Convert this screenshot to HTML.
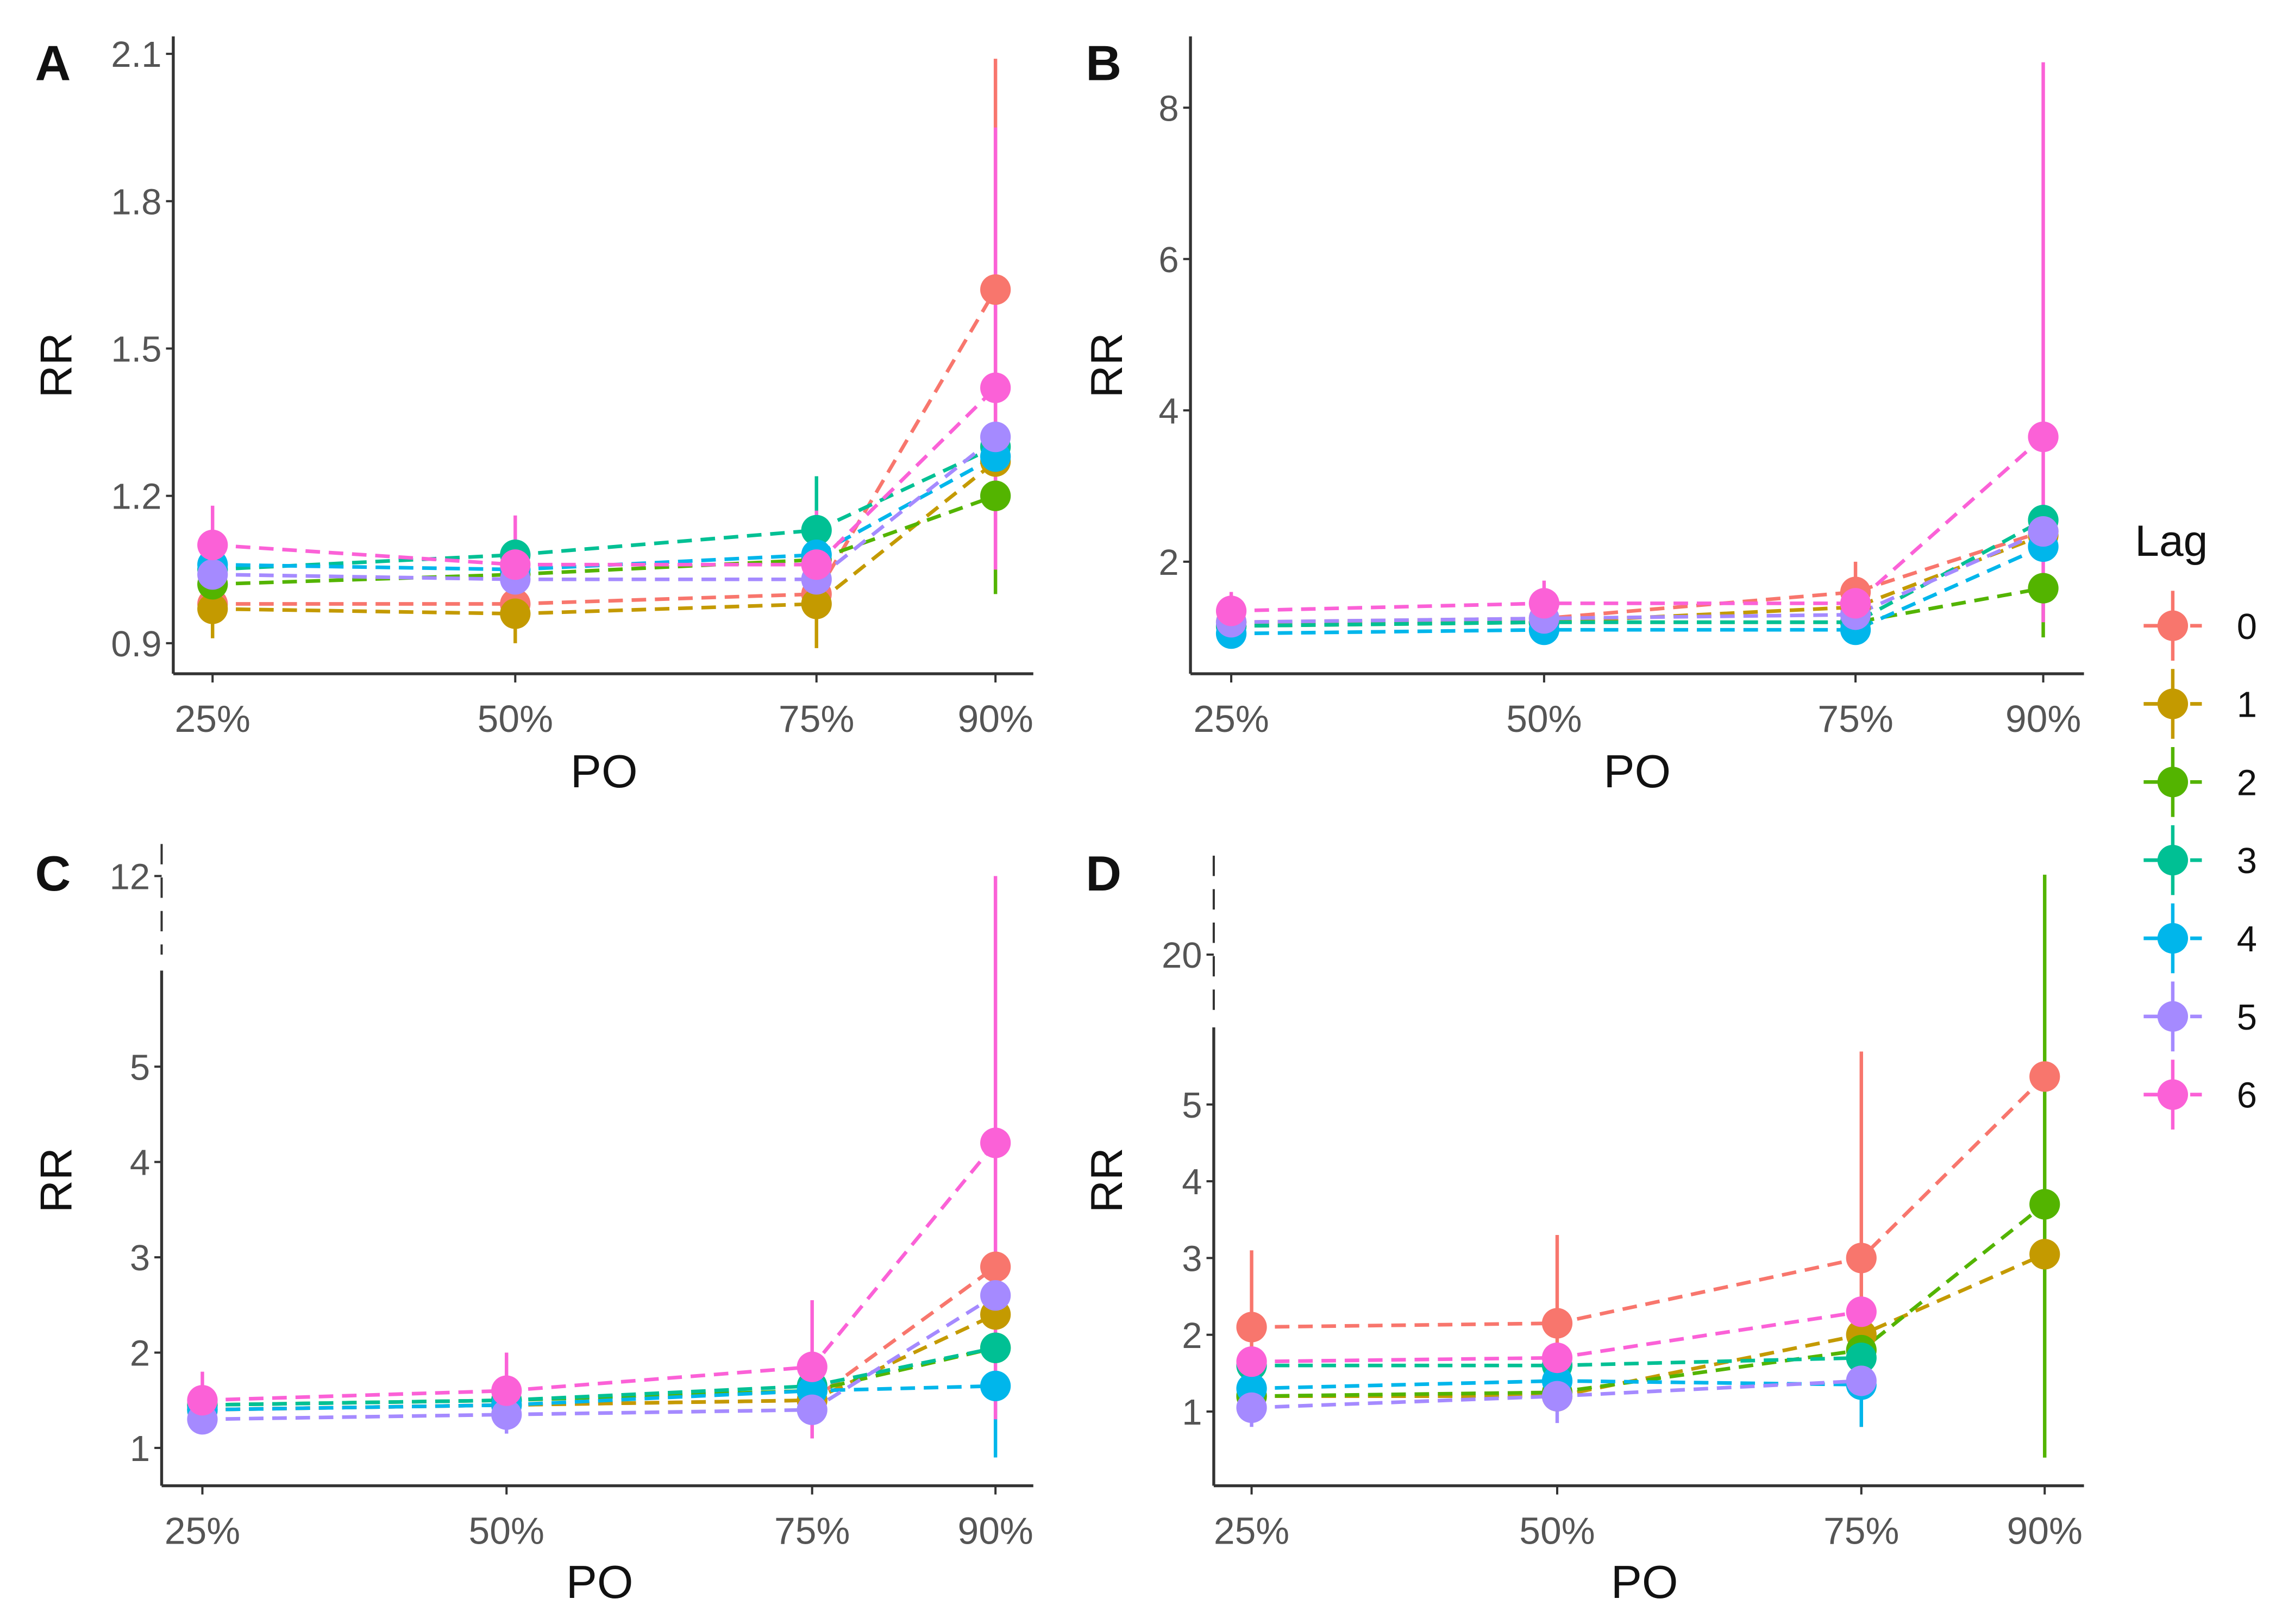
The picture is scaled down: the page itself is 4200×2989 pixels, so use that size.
<!DOCTYPE html>
<html><head><meta charset="utf-8"><style>
html,body{margin:0;padding:0;background:#fff;}
svg{display:block;}
text{font-family:"Liberation Sans",sans-serif;}
</style></head><body>
<svg id="chart" width="4200" height="2989" viewBox="0 0 1568 1116" xmlns="http://www.w3.org/2000/svg">
<rect x="0" y="0" width="1568" height="1116" fill="#ffffff"/>
</svg>
<script>
const categories = ["25%","50%","75%","90%"];
const lags = ["0","1","2","3","4","5","6"];
const colors = ["#F8766D","#C49A00","#53B400","#00C094","#00B6EB","#A58AFF","#FB61D7"];

const aTicks = [0.9,1.2,1.5,1.8,2.1];
const aVals = [[0.98,0.98,1.00,1.62],[0.97,0.96,0.98,1.27],[1.02,1.04,1.07,1.20],[1.05,1.08,1.13,1.30],[1.06,1.05,1.08,1.28],[1.04,1.03,1.03,1.32],[1.10,1.06,1.06,1.42]];
const aLo = [[null,null,null,1.05],[0.91,0.90,0.89,null],[null,null,null,1.00],[null,null,1.03,null],[null,null,null,null],[null,null,null,null],[1.02,0.98,0.97,1.05]];
const aHi = [[null,null,null,2.09],[null,null,null,null],[null,null,null,1.05],[null,null,1.24,null],[null,null,null,null],[null,null,null,null],[1.18,1.16,1.17,1.95]];

const bTicks = [2,4,6,8];
const bVals = [[1.2,1.25,1.6,2.4],[1.2,1.2,1.4,2.35],[1.15,1.2,1.2,1.65],[1.15,1.2,1.2,2.55],[1.05,1.1,1.1,2.2],[1.2,1.25,1.3,2.4],[1.35,1.45,1.45,3.65]];
const bLo = [[null,null,1.3,null],[null,null,null,null],[null,null,null,1.0],[null,null,null,null],[null,null,null,null],[null,null,null,null],[1.15,1.2,1.2,1.2]];
const bHi = [[null,null,2.0,null],[null,null,null,null],[null,null,null,null],[null,null,null,null],[null,null,null,null],[null,null,null,null],[1.6,1.75,1.7,8.6]];

const cTicks = [1,2,3,4,5,12];
const cVals = [[1.4,1.45,1.5,2.9],[1.4,1.45,1.5,2.4],[1.45,1.5,1.6,2.05],[1.45,1.5,1.65,2.05],[1.4,1.45,1.6,1.65],[1.3,1.35,1.4,2.6],[1.5,1.6,1.85,4.2]];
const cLo = [[null,null,null,null],[null,null,null,null],[null,null,null,null],[null,null,null,null],[null,null,null,0.9],[1.25,1.15,1.1,null],[1.3,1.2,1.1,1.3]];
const cHi = [[null,null,null,null],[null,null,null,null],[null,null,null,null],[null,null,null,null],[null,null,null,null],[null,null,null,null],[1.8,2.0,2.55,12]];

const dTicks = [1,2,3,4,5,20];
const dVals = [[2.1,2.15,3.0,7.8],[1.2,1.2,2.0,3.05],[1.2,1.25,1.8,3.7],[1.6,1.6,1.7,null],[1.3,1.4,1.35,null],[1.05,1.2,1.4,null],[1.65,1.7,2.3,null]];
const dLo = [[1.2,1.3,0.8,null],[null,null,null,null],[null,null,null,0.4],[null,null,null,null],[null,null,0.8,null],[0.8,0.85,null,null],[null,null,null,null]];
const dHi = [[3.1,3.3,10.3,null],[null,null,null,null],[null,null,null,28],[null,null,null,null],[null,null,null,null],[null,null,null,null],[null,null,null,null]];

const svg = document.getElementById('chart');
const NS = 'http://www.w3.org/2000/svg';
function mk(tag, attrs, parent){
  const e = document.createElementNS(NS, tag);
  for (const k in attrs) e.setAttribute(k, attrs[k]);
  (parent||svg).appendChild(e);
  return e;
}
const DASH = '10 6';

const panels = [
  {id:'a', label:'A', vals:aVals, lo:aLo, hi:aHi, ticks:aTicks, tickFmt:v=>v.toFixed(1),
   x0:119, x1:710, yTop:25, yBot:463, xs:[146,354,561,684],
   y:v=>442-(v-0.9)*337.5, labelPos:[24,55], rrPos:[38,240], poPos:[415,541], brk:null},
  {id:'b', label:'B', vals:bVals, lo:bLo, hi:bHi, ticks:bTicks, tickFmt:v=>String(v),
   x0:818, x1:1432, yTop:25, yBot:463, xs:[846,1061,1275,1404],
   y:v=>386-(v-2)*52, labelPos:[746,55], rrPos:[760,240], poPos:[1125,541], brk:null},
  {id:'c', label:'C', vals:cVals, lo:cLo, hi:cHi, ticks:cTicks, tickFmt:v=>String(v),
   x0:111, x1:710, yTop:580, yBot:1021, xs:[139,348,558,684],
   y:v=> v<=5 ? 995-(v-1)*65.5 : 733-(v-5)*(131/7), labelPos:[24,612], rrPos:[38,800], poPos:[412,1098], brk:[580,656,667]},
  {id:'d', label:'D', vals:dVals, lo:dLo, hi:dHi, ticks:dTicks, tickFmt:v=>String(v),
   x0:834, x1:1432, yTop:588, yBot:1021, xs:[860,1070,1279,1405],
   y:v=> v<=5 ? 970-(v-1)*52.75 : 759-(v-5)*(103/15), labelPos:[746,612], rrPos:[760,800], poPos:[1130,1098], brk:[588,694,706]}
];

panels.forEach(p=>{
  const g = mk('g', {});
  
  
  const xa = mk('line', {x1:p.x0, y1:p.yBot, x2:p.x1, y2:p.yBot, stroke:'#333', 'stroke-width':2}, g);
  
  
  if (p.brk){
    const d1 = mk('line', {x1:p.x0, y1:p.brk[0], x2:p.x0, y2:p.brk[1], stroke:'#333', 'stroke-width':1.5, 'stroke-dasharray':'14 9'}, g);
    
    
    const ya = mk('line', {x1:p.x0, y1:p.brk[2], x2:p.x0, y2:p.yBot, stroke:'#333', 'stroke-width':2}, g);
    
    
  } else {
    const ya = mk('line', {x1:p.x0, y1:p.yTop, x2:p.x0, y2:p.yBot, stroke:'#333', 'stroke-width':2}, g);
    
    
  }
  p.ticks.forEach(t=>{
    const yy = p.y(t);
    mk('line', {x1:p.x0-5, y1:yy, x2:p.x0, y2:yy, stroke:'#333', 'stroke-width':1.5}, g);
    const tx = mk('text', {x:p.x0-8, y:yy+9, 'text-anchor':'end', 'font-size':25, fill:'#555'}, g);
    tx.textContent = p.tickFmt(t);
    
    
  });
  categories.forEach((c,i)=>{
    const xx = p.xs[i];
    mk('line', {x1:xx, y1:p.yBot, x2:xx, y2:p.yBot+6, stroke:'#333', 'stroke-width':1.5}, g);
    const tx = mk('text', {x:xx, y:p.yBot+40, 'text-anchor':'middle', 'font-size':26, fill:'#555'}, g);
    tx.textContent = c;
    
    
  });
  const lb = mk('text', {x:p.labelPos[0], y:p.labelPos[1], 'font-size':34, 'font-weight':'bold', fill:'#111'}, g);
  lb.textContent = p.label;
  
  
  const rr = mk('text', {x:p.rrPos[0], y:p.rrPos[1], 'font-size':31, fill:'#111', 'text-anchor':'middle', transform:'rotate(-90 '+(p.rrPos[0]+11)+' '+p.rrPos[1]+')'}, g);
  rr.textContent = 'RR';
  
  
  const po = mk('text', {x:p.poPos[0], y:p.poPos[1], 'font-size':32, fill:'#111', 'text-anchor':'middle'}, g);
  po.textContent = 'PO';
  
  

  p.vals.forEach((ser,s)=>{
    const sg = mk('g', {}, g);
    
    
    ser.forEach((v,i)=>{
      const lo = p.lo[s][i], hi = p.hi[s][i];
      if (v===null) return;
      if (lo!==null || hi!==null){
        const y1 = p.y(hi!==null?hi:v), y2 = p.y(lo!==null?lo:v);
        const eb = mk('line', {x1:p.xs[i], y1:y1, x2:p.xs[i], y2:y2, stroke:colors[s], 'stroke-width':2.4}, sg);
        
        
      }
    });
    const pts = [];
    ser.forEach((v,i)=>{ if (v!==null) pts.push(p.xs[i]+','+p.y(v)); });
    const pl = mk('polyline', {points:pts.join(' '), fill:'none', stroke:colors[s], 'stroke-width':2.5, 'stroke-dasharray':DASH}, sg);
    
    
  });
  p.vals.forEach((ser,s)=>{
    ser.forEach((v,i)=>{
      if (v===null) return;
      const c = mk('circle', {cx:p.xs[i], cy:p.y(v), r:10.5, fill:colors[s]}, g);
      
      
    });
  });
});

const lg = mk('g', {});


const lt = mk('text', {x:1467, y:382, 'font-size':30, fill:'#111'}, lg);
lt.textContent = 'Lag';


lags.forEach((l,i)=>{
  const cy = 430 + i*53.7;
  const eg = mk('g', {}, lg);
  
  
  mk('line', {x1:1493, y1:cy-24, x2:1493, y2:cy+24, stroke:colors[i], 'stroke-width':2.4}, eg);
  mk('line', {x1:1473, y1:cy, x2:1513, y2:cy, stroke:colors[i], 'stroke-width':2.5, 'stroke-dasharray':DASH}, eg);
  mk('circle', {cx:1493, cy:cy, r:10.5, fill:colors[i]}, eg);
  const t = mk('text', {x:1537, y:cy+9, 'font-size':25, fill:'#111'}, eg);
  t.textContent = l;
});
</script>
</body></html>
